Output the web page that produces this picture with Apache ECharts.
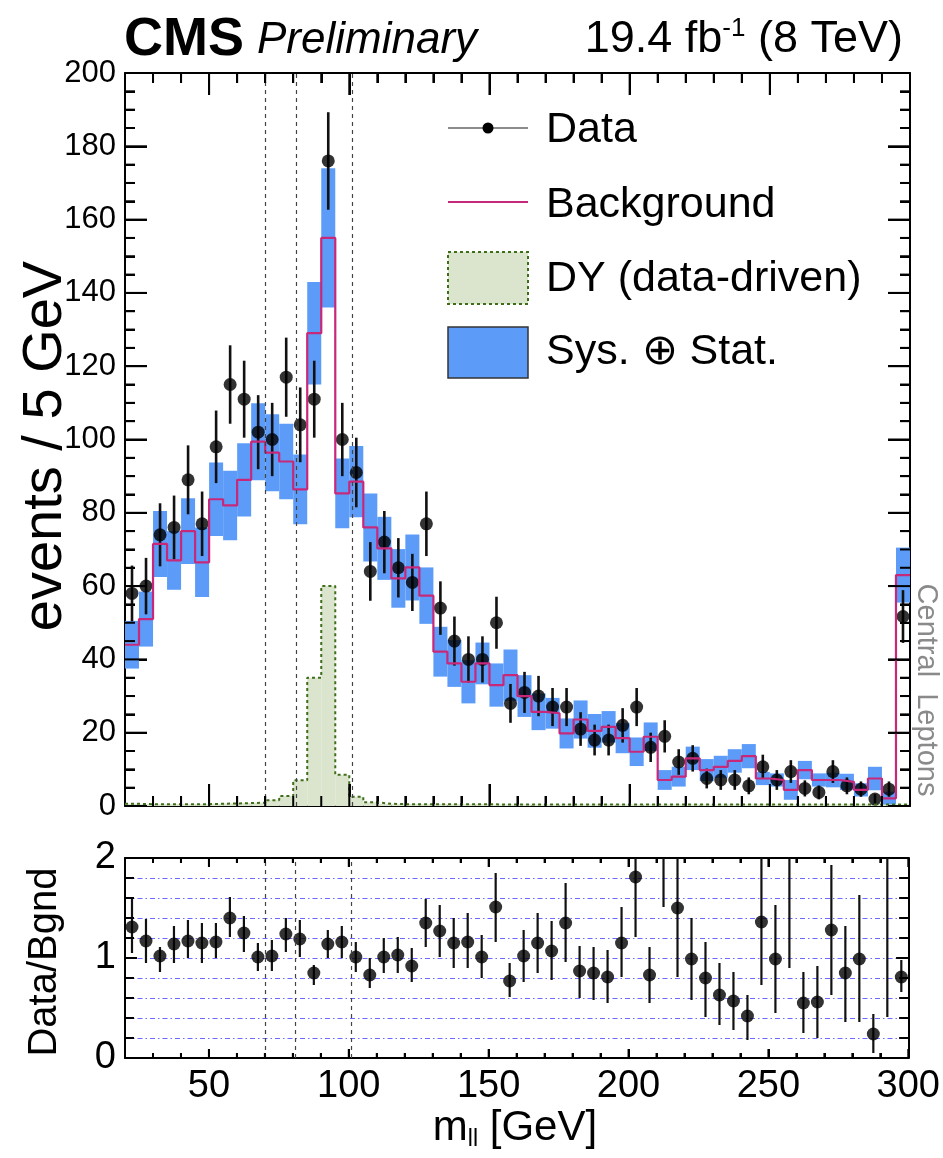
<!DOCTYPE html>
<html><head><meta charset="utf-8">
<script src="https://cdn.jsdelivr.net/npm/echarts@6/dist/echarts.min.js"></script>
<style>html,body{margin:0;padding:0;background:#fff}#c{width:943px;height:1158px}</style>
</head><body><div id="c"></div>
<script>
// ---------------- data ----------------
const binLow = [20,25,30,35,40,45,50,55,60,65,70,75,80,85,90,95,100,105,110,115,120,125,130,135,140,145,150,155,160,165,170,175,180,185,190,195,200,205,210,215,220,225,230,235,240,245,250,255,260,265,270,275,280,285,290,295];
const binWidth = 5;
const dataVals = [58,60,74,76,89,77,98,115,111,102,100,117,104,111,176,100,91,64,72,65,61,77,54,45,40,40,50,28,31,30,27,27,21,18,18,22,27,16,19,12,13,7.5,7.1,7.1,5.5,10.7,7.1,9.4,4.8,3.7,9.4,5.5,4.6,1.9,4.6,51.7];
const dataErr = [7.6,7.7,8.6,8.7,9.4,8.8,9.9,10.7,10.5,10.1,10,10.8,10.2,10.5,13.3,10,9.5,8,8.5,8.1,7.8,8.8,7.3,6.7,6.3,6.3,7.1,5.3,5.6,5.5,5.2,5.2,4.6,4.2,4.2,4.7,5.2,4,4.4,3.5,3.6,2.7,2.7,2.7,2.3,3.3,2.7,3.1,2.2,1.9,3.1,2.3,2.1,1.4,2.1,7.2];
const bkgVals = [44,51,71.5,67,75,66.5,83.7,82,89,99.4,96.4,94,86.4,129,155,85.3,88.5,76,70.3,62.1,65.1,57.4,42.1,38.9,33.9,38.9,33,35.7,30,25.7,25.3,19.8,23.6,20.5,21.6,18.5,14.8,18.9,7.1,8,13,9.8,10.7,12.3,13.6,7.5,7.1,4.4,9.8,7.1,7.1,6.6,4.4,7.5,2.1,63];
const bkgErr = [6.5,7.5,9,8,9,9.5,10,9.5,10,10.5,10.5,10.3,9.5,14,19,9.5,9.7,9.3,8.6,8,9,7.7,6.8,6.4,5.9,5.7,5.9,7,5.7,5,4.2,4.1,5.2,4.6,4.3,4.1,3.9,3.9,2.7,2.7,3.2,3,3,3.2,3.3,1.8,1.8,2.7,2.5,1.8,2,2.2,1.8,3.2,1.8,7.5];
const dyVals = [0.6,0.5,0.5,0.5,0.5,0.5,0.6,0.7,0.8,0.9,1.6,2.7,7,35,60,8.5,2.5,1,0.6,0.5,0.5,0.5,0.5,0.5,0.5,0.5,0.4,0.4,0.4,0.4,0.4,0.4,0.4,0.4,0.4,0.4,0.4,0.4,0.4,0.4,0.4,0.4,0.4,0.4,0.4,0.4,0.4,0.4,0.4,0.4,0.4,0.4,0.4,0.4,0.4,0.4];
const ratioVals = [1.31,1.17,1.02,1.14,1.17,1.15,1.16,1.40,1.25,1.01,1.02,1.24,1.19,0.85,1.14,1.16,1.01,0.83,1.01,1.03,0.92,1.35,1.27,1.15,1.16,1.01,1.51,0.77,1.02,1.15,1.07,1.35,0.87,0.85,0.81,1.15,1.81,0.83,null,1.50,0.99,0.80,0.63,0.57,0.42,1.36,0.99,null,0.55,0.56,1.28,0.85,0.99,0.24,null,0.81];
const ratioLo = [1.05,0.95,0.86,0.95,1.0,0.95,1.0,1.21,1.06,0.87,0.87,1.06,1.01,0.73,1.0,1.0,0.86,0.70,0.85,0.85,0.76,1.11,1.01,0.90,0.90,0.80,1.16,0.61,0.76,0.85,0.78,0.96,0.60,0.58,0.55,0.81,1.21,0.55,1.51,0.81,0.58,0.41,0.33,0.28,0.18,0.73,0.45,0.90,0.25,0.20,0.63,0.36,0.36,0.05,0.41,0.66];
const ratioHi = [1.60,1.39,1.11,1.32,1.38,1.35,1.35,1.61,1.42,1.15,1.18,1.40,1.38,0.93,1.28,1.32,1.16,1.0,1.2,1.21,1.1,1.59,1.53,1.40,1.45,1.23,1.85,0.95,1.28,1.45,1.37,1.75,1.12,1.11,1.08,1.51,2.3,1.11,3.2,2.1,1.40,1.16,0.95,0.86,0.63,2.2,1.53,3.0,0.86,0.92,1.93,1.32,1.63,0.44,3.0,0.98];
const windowLines = [70,81,101];
// tick marks / labels
const xMajorTicks = [50,100,150,200,250,300];
const yTopMajorTicks = [0,20,40,60,80,100,120,140,160,180,200];
const yRatioMajorTicks = [0,1,2];

// ---------------- helpers ----------------
const F = "'Liberation Sans', Arial, Helvetica, sans-serif";
const centers = binLow.map(x => x + binWidth / 2);
const stepPts = vals => binLow.map((x, i) => [x, vals[i]]).concat([[binLow[binLow.length - 1] + binWidth, vals[vals.length - 1]]]);
function minorBetween(lo, hi, step, majors) {
  const out = [];
  for (let k = 1; lo + k * step < hi - 1e-9; k++) {
    const v = +(lo + k * step).toFixed(6);
    if (!majors.some(m => Math.abs(m - v) < 1e-9)) out.push(v);
  }
  return out;
}
const xMinorTicks = minorBetween(20, 300, 10, xMajorTicks);
const yTopMinorTicks = minorBetween(0, 200, 5, yTopMajorTicks);
const yRatioMinorTicks = minorBetween(0, 2, 0.2, yRatioMajorTicks);

function xAxesFor(grid, labelSize) {
  return ['bottom', 'top'].map(pos => ({
    gridIndex: grid, type: 'value', min: 20, max: 300, position: pos,
    axisLine: {show: true, onZero: false, lineStyle: {color: '#000', width: 2}},
    axisTick: {show: false}, splitLine: {show: false},
    axisLabel: {show: pos === 'bottom' && labelSize > 0, customValues: xMajorTicks, fontSize: labelSize, fontFamily: F, color: '#000', margin: 10}
  }));
}
function yAxesFor(grid, max, interval, labelSize, gridLines, labelVals) {
  const ls = {color: 'rgba(70,70,255,0.8)', width: 1, type: [5, 3, 1.5, 3]};
  return ['left', 'right'].map(pos => ({
    gridIndex: grid, type: 'value', min: 0, max: max, interval: interval, position: pos,
    axisLine: {show: true, onZero: false, lineStyle: {color: '#000', width: 2}},
    axisTick: {show: false},
    axisLabel: {show: pos === 'left', fontSize: labelSize, fontFamily: F, color: '#000', margin: 9,
      formatter: v => labelVals.some(m => Math.abs(m - v) < 1e-6) ? String(Math.round(v)) : ''},
    splitLine: {show: gridLines && pos === 'left', lineStyle: ls}
  }));
}
// extra label-less axes shifted into the plot so that their outward ticks end on the frame (inward ticks)
function tickAxis(grid, pos, min, max, len, opts) {
  return Object.assign({
    gridIndex: grid, type: 'value', min: min, max: max, position: pos, offset: -len,
    axisLine: {show: false, onZero: false},
    axisTick: Object.assign({show: true, inside: false, length: len, lineStyle: {color: '#000', width: 2}}, opts.tick || {}),
    axisLabel: {show: false}, splitLine: {show: false}
  }, opts.interval ? {interval: opts.interval} : {});
}
function xTickAxes(grid, majLen, minLen) {
  const out = [];
  ['bottom', 'top'].forEach(p => {
    out.push(tickAxis(grid, p, 20, 300, minLen, {interval: 10}));
    out.push(tickAxis(grid, p, 20, 300, majLen, {tick: {customValues: xMajorTicks}}));
  });
  return out;
}
function yTickAxes(grid, max, majInt, minInt, majLen, minLen) {
  const out = [];
  ['left', 'right'].forEach(p => {
    out.push(tickAxis(grid, p, 0, max, minLen, {interval: minInt}));
    out.push(tickAxis(grid, p, 0, max, majLen, {interval: majInt}));
  });
  return out;
}

function rectItem(fill) {
  return function (params, api) {
    const p0 = api.coord([api.value(0), api.value(3)]);
    const p1 = api.coord([api.value(1), api.value(2)]);
    return {type: 'rect', shape: {x: p0[0], y: p0[1], width: p1[0] - p0[0], height: p1[1] - p0[1]}, style: {fill: fill}};
  };
}
function errItem(width) {
  return function (params, api) {
    const a = api.coord([api.value(0), api.value(1)]);
    const b = api.coord([api.value(0), api.value(2)]);
    return {type: 'line', shape: {x1: a[0], y1: a[1], x2: b[0], y2: b[1]}, style: {stroke: '#111', lineWidth: width}};
  };
}
const bandData = binLow.map((x, i) => [x, x + binWidth, bkgVals[i] - bkgErr[i], bkgVals[i] + bkgErr[i]]);
const dyData = binLow.map((x, i) => [x, x + binWidth, 0, dyVals[i]]);
const dataErrData = centers.map((c, i) => [c, dataVals[i] - dataErr[i], dataVals[i] + dataErr[i]]);
const dataPts = centers.map((c, i) => [c, dataVals[i]]);
const ratioErrData = centers.map((c, i) => [c, ratioLo[i], ratioHi[i]]);
const ratioPts = centers.map((c, i) => [c, ratioVals[i]]).filter(p => p[1] !== null);
const vLines = {silent: true, symbol: 'none', label: {show: false},
  lineStyle: {color: '#444', width: 1.2, type: [4, 4]}, data: windowLines.map(v => ({xAxis: v}))};

const baseGraphics = [
  {type: 'text', x: 124, y: 40, style: {text: 'CMS', fontSize: 54, fontWeight: 'bold', fontFamily: F, fill: '#000', verticalAlign: 'middle'}},
  {type: 'text', x: 257, y: 41, style: {text: 'Preliminary', fontSize: 44, fontStyle: 'italic', fontFamily: F, fill: '#000', verticalAlign: 'middle'}},
  {type: 'text', x: 903, y: 40, style: {text: '{a|19.4 fb}{s|-1}{a| (8 TeV)}', align: 'right', verticalAlign: 'middle', fill: '#000',
    rich: {a: {fontSize: 45, fontFamily: F, lineHeight: 48}, s: {fontSize: 26, fontFamily: F, lineHeight: 48, verticalAlign: 'top'}}}},
  {type: 'line', shape: {x1: 448, y1: 128, x2: 528, y2: 128}, style: {stroke: '#666', lineWidth: 1.5}},
  {type: 'circle', shape: {cx: 488, cy: 128, r: 5.5}, style: {fill: '#000'}},
  {type: 'text', x: 546, y: 130, style: {text: 'Data', fontSize: 43, fontFamily: F, fill: '#000', verticalAlign: 'middle'}},
  {type: 'line', shape: {x1: 448, y1: 202, x2: 528, y2: 202}, style: {stroke: '#c8287a', lineWidth: 2}},
  {type: 'text', x: 546, y: 205, style: {text: 'Background', fontSize: 43, fontFamily: F, fill: '#000', verticalAlign: 'middle'}},
  {type: 'rect', shape: {x: 448, y: 252, width: 80, height: 52}, style: {fill: '#dbe4cc', stroke: '#3f6e1a', lineWidth: 2, lineDash: [3, 3]}},
  {type: 'text', x: 546, y: 279, style: {text: 'DY (data-driven)', fontSize: 43, fontFamily: F, fill: '#000', verticalAlign: 'middle'}},
  {type: 'rect', shape: {x: 448, y: 327, width: 80, height: 51}, style: {fill: '#5c9cf8', stroke: '#333', lineWidth: 1.5}},
  {type: 'text', x: 546, y: 352, style: {text: 'Sys. ⊕ Stat.', fontSize: 43, fontFamily: F, fill: '#000', verticalAlign: 'middle'}},
  {type: 'text', x: 46, y: 446, rotation: Math.PI / 2, style: {text: 'events / 5 GeV', fontSize: 56, fontFamily: F, fill: '#000', align: 'center', verticalAlign: 'middle'}},
  {type: 'text', x: 45, y: 962, rotation: Math.PI / 2, style: {text: 'Data/Bgnd', fontSize: 40, fontFamily: F, fill: '#000', align: 'center', verticalAlign: 'middle'}},
  {type: 'text', x: 515, y: 1128, style: {text: '{a|m}{b|ll}{a| [GeV]}', align: 'center', verticalAlign: 'middle', fill: '#000',
    rich: {a: {fontSize: 42, fontFamily: F, lineHeight: 46}, b: {fontSize: 23, fontFamily: F, lineHeight: 46, verticalAlign: 'bottom'}}}},
  {type: 'text', x: 926, y: 690, rotation: -Math.PI / 2, style: {text: 'Central  Leptons', fontSize: 29, fontFamily: F, fill: '#8a8a8a', align: 'center', verticalAlign: 'middle'}}
];

const chart = echarts.init(document.getElementById('c'), null, {renderer: 'canvas'});
chart.setOption({
  animation: false,
  backgroundColor: '#fff',
  grid: [
    {left: 125, top: 73, width: 785, height: 733},
    {left: 125, top: 858, width: 785, height: 200}
  ],
  xAxis: xAxesFor(0, 0).concat(xAxesFor(1, 38), xTickAxes(0, 22, 10), xTickAxes(1, 9, 5)),
  yAxis: yAxesFor(0, 200, 20, 31, false, yTopMajorTicks).concat(yAxesFor(1, 2, 0.2, 38, true, yRatioMajorTicks),
    yTickAxes(0, 200, 20, 5, 22, 10), yTickAxes(1, 2, 1, 0.2, 12, 9)),
  series: [
    {type: 'custom', xAxisIndex: 0, yAxisIndex: 0, data: bandData, encode: {x: [0, 1], y: [2, 3]}, renderItem: rectItem('#5c9cf8')},
    {type: 'custom', xAxisIndex: 0, yAxisIndex: 0, data: dyData, encode: {x: [0, 1], y: [2, 3]}, renderItem: rectItem('#dbe4cc')},
    {type: 'line', xAxisIndex: 0, yAxisIndex: 0, step: 'end', data: stepPts(dyVals), symbol: 'none', lineStyle: {color: '#3f6e1a', width: 2, type: [3, 3]}, markLine: vLines},
    {type: 'line', xAxisIndex: 0, yAxisIndex: 0, step: 'end', data: stepPts(bkgVals), symbol: 'none', lineStyle: {color: '#c8287a', width: 2.2}},
    {type: 'custom', xAxisIndex: 0, yAxisIndex: 0, data: dataErrData, encode: {x: 0, y: [1, 2]}, renderItem: errItem(2.6)},
    {type: 'scatter', xAxisIndex: 0, yAxisIndex: 0, data: dataPts, symbol: 'circle', symbolSize: 13, itemStyle: {color: '#000'}},
    {type: 'custom', xAxisIndex: 2, yAxisIndex: 2, data: ratioErrData, clip: true, encode: {x: 0, y: [1, 2]}, renderItem: errItem(2.2)},
    {type: 'scatter', xAxisIndex: 2, yAxisIndex: 2, data: ratioPts, symbol: 'circle', symbolSize: 13, itemStyle: {color: '#000'}, markLine: vLines}
  ]
});

// inward ROOT-style tick marks drawn as well through the chart's own axes (pixel positions from convertToPixel)
function tickGraphics(finder, yRange, xMaj, xMin, yMaj, yMin, lens) {
  const out = [];
  const w = 2;
  const add = (x, y, width, height) => out.push({type: 'rect', z: 100, silent: true, shape: {x: x, y: y, width: width, height: height}, style: {fill: '#000'}});
  const xt = (v, len) => {
    const b = chart.convertToPixel(finder, [v, yRange[0]]), t = chart.convertToPixel(finder, [v, yRange[1]]);
    add(b[0] - w / 2, b[1] - len, w, len); add(t[0] - w / 2, t[1], w, len);
  };
  const yt = (v, len) => {
    const l = chart.convertToPixel(finder, [20, v]), r = chart.convertToPixel(finder, [300, v]);
    add(l[0], l[1] - w / 2, len, w); add(r[0] - len, r[1] - w / 2, len, w);
  };
  xMaj.forEach(v => xt(v, lens[0])); xMin.forEach(v => xt(v, lens[1]));
  yMaj.forEach(v => yt(v, lens[2])); yMin.forEach(v => yt(v, lens[3]));
  return out;
}
const ticks = tickGraphics({xAxisIndex: 0, yAxisIndex: 0}, [0, 200], xMajorTicks, xMinorTicks, yTopMajorTicks, yTopMinorTicks, [22, 10, 22, 10])
  .concat(tickGraphics({xAxisIndex: 2, yAxisIndex: 2}, [0, 2], xMajorTicks, xMinorTicks, yRatioMajorTicks, yRatioMinorTicks, [9, 5, 12, 9]));
chart.setOption({graphic: baseGraphics.concat(ticks)});
</script></body></html>
